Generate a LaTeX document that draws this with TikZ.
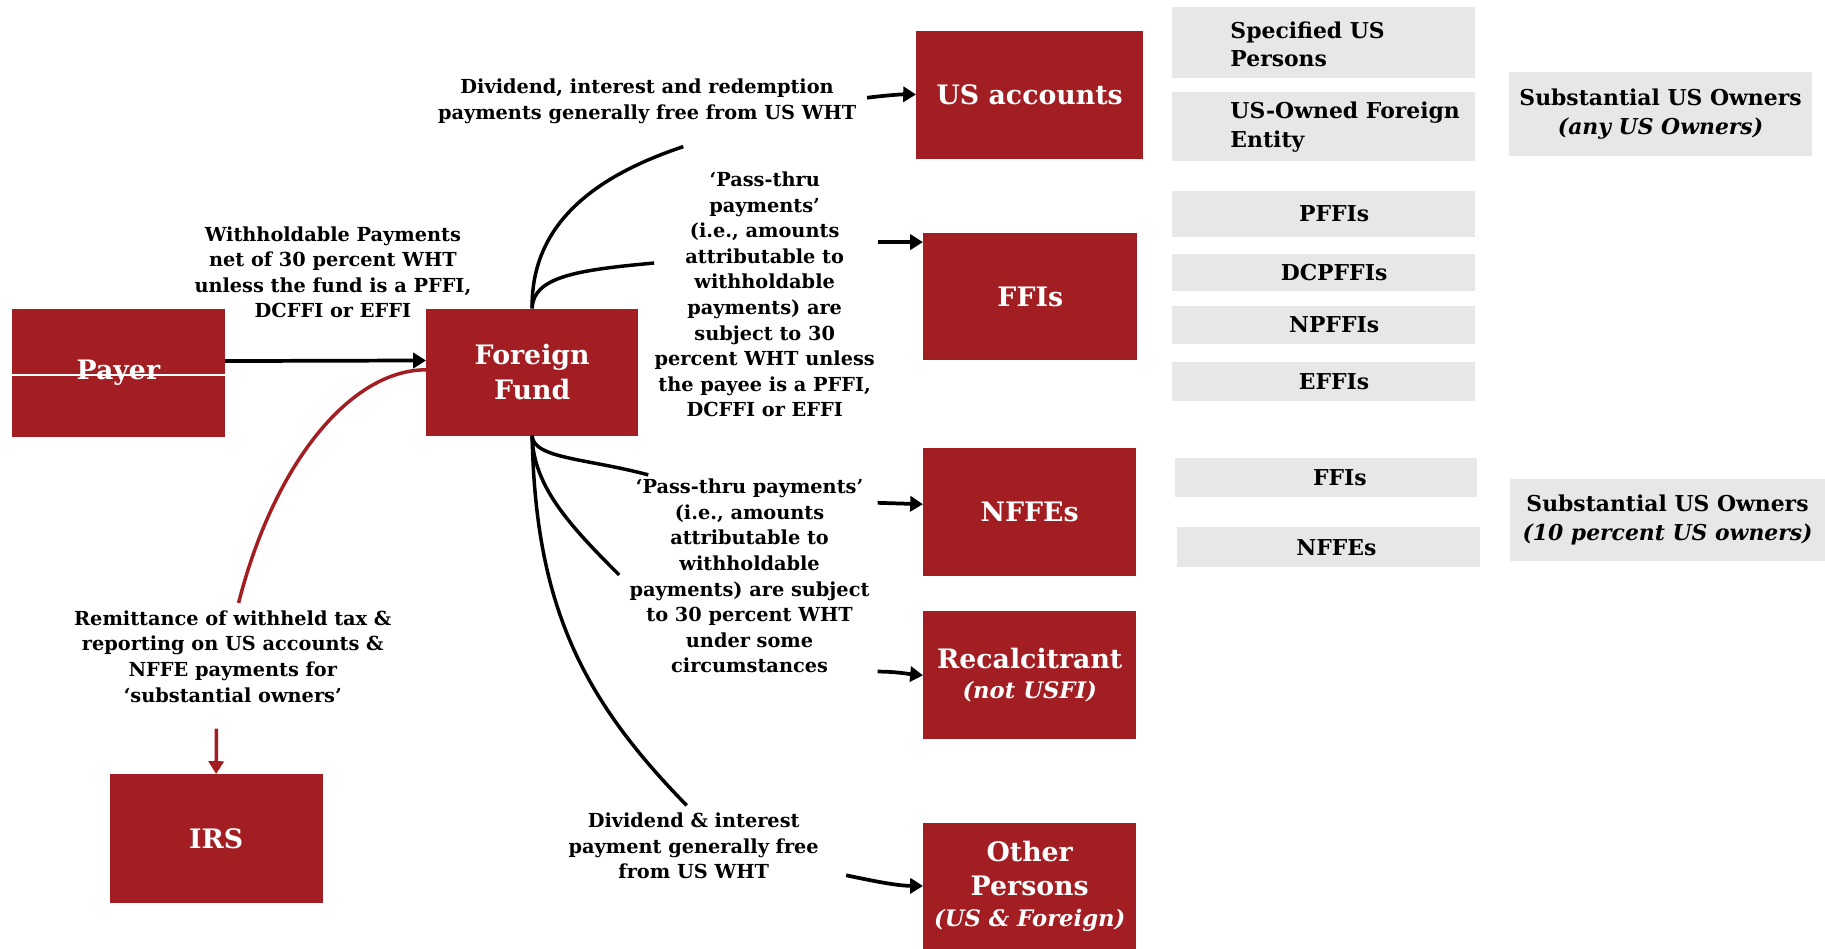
\documentclass[tikz,border=0pt]{standalone}
\usepackage{fontspec}
\setmainfont{DejaVu Serif}
\usetikzlibrary{arrows.meta}
\definecolor{fundred}{HTML}{A21E22}
\definecolor{panelgrey}{HTML}{E7E7E7}

\begin{document}
\begin{tikzpicture}[x=1pt,y=-1pt,
  redbox/.style={fill=fundred, text=white, align=center, inner sep=0pt,
    anchor=north west, font=\bfseries\fontsize{23}{30}\selectfont},
  greybox/.style={fill=panelgrey, inner sep=0pt, anchor=north west},
  greytext/.style={font=\bfseries\fontsize{18.8}{24.5}\selectfont, inner sep=0pt},
  lbl/.style={font=\bfseries\fontsize{16.6}{22}\selectfont, align=center, inner sep=0pt},
  flow/.style={line width=3pt, black},
  redflow/.style={line width=3pt, fundred},
  arr/.style={line width=3.2pt, -{Triangle[length=11pt,width=13pt]}},
]
\useasboundingbox (0,0) rectangle (1568,815);

% --- red entity boxes ---
\node[redbox, minimum width=183pt, minimum height=110pt] (payer) at (10,265) {Payer};
\draw[white, line width=1pt] ([yshift=-2pt]payer.west) -- ([yshift=-2pt]payer.east);
\node[redbox, minimum width=182pt, minimum height=109pt] (fund) at (366,265) {Foreign\\Fund};
\node[redbox, minimum width=195pt, minimum height=110pt] (usacc) at (787,26) {US accounts};
\node[redbox, minimum width=184pt, minimum height=109pt] (ffi) at (793,200) {FFIs};
\node[redbox, minimum width=183pt, minimum height=110pt] (nffe) at (793,385) {NFFEs};
\node[redbox, minimum width=183pt, minimum height=110pt] (recal) at (793,525)
  {Recalcitrant\\[-4pt]{\itshape\fontsize{19.5}{24}\selectfont (not USFI)}};
\node[redbox, minimum width=183pt, minimum height=108pt] (other) at (793,707)
  {Other\\Persons\\[-4pt]{\itshape\fontsize{19.5}{24}\selectfont (US \& Foreign)}};
\node[redbox, minimum width=183pt, minimum height=111pt] (irs) at (94,665) {IRS};

% --- grey category boxes ---
\node[greybox, minimum width=260pt, minimum height=61pt] (specbox) at (1007,6) {};
\node[greytext, anchor=west, align=left] (spec) at (1057,38) {Specified US\\Persons};
\node[greybox, minimum width=260pt, minimum height=59pt] (ownbox) at (1007,79) {};
\node[greytext, anchor=west, align=left] (own) at (1057,109) {US-Owned Foreign\\Entity};
\node[greybox, minimum width=261pt, minimum height=72pt] (subany) at (1296,62) {};
\node[greytext, align=center] at (subany.center) {Substantial US Owners\\{\itshape (any US Owners)}};
\node[greybox, minimum width=260pt, minimum height=39pt] (pffi) at (1007,164) {};
\node[greytext] at ([xshift=9pt]pffi.center) {PFFIs};
\node[greybox, minimum width=260pt, minimum height=32pt] (dcpffi) at (1007,218) {};
\node[greytext] at ([xshift=9pt]dcpffi.center) {DCPFFIs};
\node[greybox, minimum width=260pt, minimum height=32pt] (npffi) at (1007,263) {};
\node[greytext] at ([xshift=9pt]npffi.center) {NPFFIs};
\node[greybox, minimum width=260pt, minimum height=33pt] (effi) at (1007,311) {};
\node[greytext] at ([xshift=9pt]effi.center) {EFFIs};
\node[greybox, minimum width=260pt, minimum height=34pt] (gffi) at (1009,393) {};
\node[greytext] at ([xshift=12pt]gffi.center) {FFIs};
\node[greybox, minimum width=260pt, minimum height=34pt] (gnffe) at (1011,453) {};
\node[greytext] at ([xshift=7pt]gnffe.center) {NFFEs};
\node[greybox, minimum width=271pt, minimum height=71pt] (sub10) at (1297,411) {};
\node[greytext, align=center] at (sub10.center) {Substantial US Owners\\{\itshape (10 percent US owners)}};

% --- flow labels ---
\node[lbl] (divlbl) at (556,87) {Dividend, interest and redemption\\payments generally free from US WHT};
\node[lbl] (whlbl) at (286,234) {Withholdable Payments\\net of 30 percent WHT\\unless the fund is a PFFI,\\DCFFI or EFFI};
\node[lbl] (pt1) at (657,253) {‘Pass-thru\\payments’\\(i.e., amounts\\attributable to\\withholdable\\payments) are\\subject to 30\\percent WHT unless\\the payee is a PFFI,\\DCFFI or EFFI};
\node[lbl] (pt2) at (644,495) {‘Pass-thru payments’\\(i.e., amounts\\attributable to\\withholdable\\payments) are subject\\to 30 percent WHT\\under some\\circumstances};
\node[lbl] (div2) at (596,727) {Dividend \& interest\\payment generally free\\from US WHT};
\node[lbl] (remit) at (200,564) {Remittance of withheld tax \&\\reporting on US accounts \&\\NFFE payments for\\‘substantial owners’};

% --- free ends of the fan-out curves ---
\coordinate (c1) at (587,126);
\coordinate (c2) at (562,226);
\coordinate (c3) at (557,408);
\coordinate (c4) at (532,494);
\coordinate (c5) at (590,692);
\coordinate (r1) at (205,518);
\coordinate (a1) at (745,84);
\coordinate (a2) at (754,208);
\coordinate (a3) at (754,432);
\coordinate (a4) at (754,577);
\coordinate (a5) at (727,752);
\coordinate (a6) at (186,626);

% --- connectors ---
\draw[arr] ([yshift=10pt]payer.east) -- ([yshift=10pt]fund.west);

\draw[flow] (fund.north) .. controls (456,190) and (515,150) .. (c1);
\draw[flow] (fund.north) .. controls (458,238) and (495,232) .. (c2);
\draw[flow] (fund.south) .. controls (458,394) and (505,394) .. (c3);
\draw[flow] (fund.south) .. controls (458,418) and (490,452) .. (c4);
\draw[flow] (fund.south) .. controls (460,520) and (500,600) .. (c5);

\draw[redflow] ([yshift=2pt]fund.west) .. controls (300,318) and (235,400) .. (r1);
\draw[arr, fundred, line width=3pt] (a6) -- (irs.north);

\draw[arr] (a1) .. controls (760,82) and (775,81) .. (usacc.west);
\draw[arr] (a2) -- ([yshift=-8pt]ffi.north west);
\draw[arr] (a3) -- ([yshift=7pt]nffe.west);
\draw[arr] (a4) .. controls (770,577) and (780,579) .. (recal.west);
\draw[arr] (a5) .. controls (755,758) and (772,761) .. (other.west);
\end{tikzpicture}
\end{document}
